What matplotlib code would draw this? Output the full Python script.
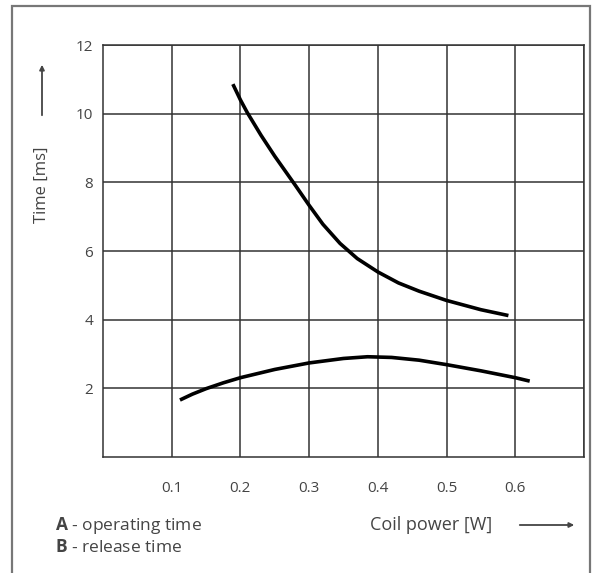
import matplotlib
matplotlib.use("Agg")
import matplotlib.pyplot as plt
from matplotlib.patches import Rectangle, FancyArrowPatch

plt.rcParams['font.family'] = ['Open Sans', 'DejaVu Sans']
plt.rcParams['mathtext.fontset'] = 'custom'
plt.rcParams['mathtext.rm'] = 'Open Sans'
plt.rcParams['mathtext.bf'] = 'Open Sans:bold'

# curve A - operating time
a_power = [0.189, 0.200, 0.210, 0.230, 0.250, 0.280, 0.300, 0.320, 0.345, 0.370,
           0.400, 0.430, 0.460, 0.500, 0.550, 0.590]
a_time = [10.86, 10.40, 10.03, 9.37, 8.76, 7.91, 7.33, 6.78, 6.22, 5.78,
          5.39, 5.07, 4.83, 4.56, 4.29, 4.12]

# curve B - release time
b_power = [0.112, 0.130, 0.150, 0.175, 0.200, 0.250, 0.300, 0.350, 0.385, 0.420,
           0.460, 0.500, 0.550, 0.600, 0.621]
b_time = [1.66, 1.83, 1.99, 2.16, 2.31, 2.55, 2.74, 2.87, 2.92, 2.90,
          2.82, 2.69, 2.51, 2.31, 2.21]

x_ticks = [0.1, 0.2, 0.3, 0.4, 0.5, 0.6]
y_ticks = [2, 4, 6, 8, 10, 12]

fig = plt.figure(figsize=(5.99, 5.73), dpi=100)
ax = fig.add_axes([103/599, 1-457/573, (584-103)/599, (457-45)/573])

# outer frame
fig.patches.append(Rectangle((12/599, -0.01), (590-12)/599, 1-6/573+0.01,
                             transform=fig.transFigure, fill=False,
                             edgecolor='#777777', lw=1.6))

ax.plot(a_power, a_time, color='black', lw=2.6, solid_capstyle='butt', solid_joinstyle='round')
ax.plot(b_power, b_time, color='black', lw=2.6, solid_capstyle='butt', solid_joinstyle='round')

ax.set_xlim(0, 0.7)
ax.set_ylim(0, 12)
ax.set_xticks(x_ticks + [0.7])
ax.set_xticklabels([str(t) for t in x_ticks] + [''])
ax.set_yticks(y_ticks)
ax.set_yticklabels([str(t) for t in y_ticks])
ax.grid(True, color='#333333', lw=1.1)
for s in ax.spines.values():
    s.set_color('#333333')
    s.set_linewidth(1.1)
ax.tick_params(length=0, labelsize=11, labelcolor='#444444')
ax.tick_params(axis='x', pad=17)
ax.tick_params(axis='y', pad=7)

# axis labels with arrows
fig.text(42/599, 1-185/573, 'Time [ms]', rotation=90, ha='center', va='center',
         fontsize=12, color='#444444')
fig.patches.append(FancyArrowPatch((42/599, 1-118/573), (42/599, 1-62/573),
                                   transform=fig.transFigure, arrowstyle='-|>',
                                   mutation_scale=7, color='#444444', lw=1.3))
fig.text(370/599, 1-525/573, 'Coil power [W]', ha='left', va='center',
         fontsize=13, color='#444444')
fig.patches.append(FancyArrowPatch((517/599, 1-525/573), (577/599, 1-525/573),
                                   transform=fig.transFigure, arrowstyle='-|>',
                                   mutation_scale=7, color='#444444', lw=1.3))

fig.text(55/599, 1-525/573, r'$\mathbf{A}$ - operating time', ha='left', va='center',
         fontsize=12.5, color='#444444')
fig.text(55/599, 1-548/573, r'$\mathbf{B}$ - release time', ha='left', va='center',
         fontsize=12.5, color='#444444')

fig.savefig('out.png', dpi=100)
